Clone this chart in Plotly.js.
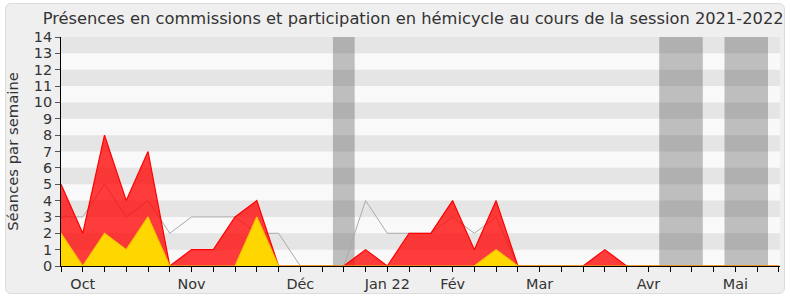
<!DOCTYPE html>
<html>
<head>
<meta charset="utf-8">
<script src="https://cdn.plot.ly/plotly-3.0.1.min.js"></script>
<style>
  html, body { margin:0; padding:0; background:#ffffff; }
  #frame { position:absolute; left:5px; top:3px; width:778px; height:289px; border:1px solid #dcdcdc; border-radius:6px; background:#efefef; }
  #chart { position:absolute; left:0; top:0; width:790px; height:300px; }
</style>
</head>
<body>
<div id="frame"></div>
<div id="chart"></div>
<script>
// Week index positions (one point per week of the session)
const semaines = [0,1,2,3,4,5,6,7,8,9,10,11,12,13,14,15,16,17,18,19,20,21,22,23,24,25,26,27,28,29,30,31,32,33];
// Month tick labels and the week where they sit
const moisLabels = ["Oct","Nov","Déc","Jan 22","Fév","Mar","Avr","Mai"];
const moisPos = [1,6,11,15,18,22,27,31];
// Séances per week
const presencesCommission = [5,2,8,4,7,0,1,1,3,4,0,0,0,0,1,0,2,2,4,1,4,0,0,0,0,1,0,0,0,0,0,0,0,0];
const participationHemicycle = [2,0,2,1,3,0,0,0,0,3,0,0,0,0,0,0,0,0,0,0,1,0,0,0,0,0,0,0,0,0,0,0,0,0];
const medianeDeputes = [3,3,5,3,4,2,3,3,3,2,2,0,0,0,4,2,2,2,3,2,3,0,0,0,0,0,0,0,0,0,0,0,0,0];
// Holiday weeks (start, end in week index units)
const vacances = [[12.5,13.5],[27.5,29.5],[30.5,32.5]];

const ticktext = semaines.map(w => { const k = moisPos.indexOf(w); return k >= 0 ? moisLabels[k] : ""; });

const shapes = [];
for (let y = 1; y < 14; y += 2) {
  shapes.push({type:'rect', xref:'paper', yref:'y', x0:0, x1:1, y0:y, y1:y+1, fillcolor:'#e5e5e5', line:{width:0}, layer:'below'});
}
vacances.forEach(v => {
  shapes.push({type:'rect', xref:'x', yref:'paper', x0:v[0], x1:v[1], y0:0, y1:1, fillcolor:'rgba(52,52,52,0.3)', line:{width:0}, layer:'below'});
});

const fam = 'DejaVu Sans, Verdana, sans-serif';
const font = {family:fam, size:14, color:'#333'};

const data = [
  {x:semaines, y:medianeDeputes, type:'scatter', mode:'lines', line:{color:'#aaaaaa', width:1}, hoverinfo:'skip', showlegend:false},
  {x:semaines, y:presencesCommission, type:'scatter', mode:'lines', fill:'tozeroy', fillcolor:'rgba(255,0,0,0.76)', line:{color:'#ff0000', width:1.2}, showlegend:false},
  {x:semaines, y:participationHemicycle, type:'scatter', mode:'lines', fill:'tozeroy', fillcolor:'#ffd700', line:{color:'#f5c800', width:1.2}, showlegend:false}
];

const layout = {
  width:790, height:300,
  margin:{l:61, r:10, t:37, b:34, pad:0},
  paper_bgcolor:'rgba(0,0,0,0)',
  plot_bgcolor:'#f9f9f9',
  font:font,
  title:{text:'Présences en commissions et participation en hémicycle au cours de la session 2021-2022', font:{family:fam, size:16.3, color:'#333'}, x:0.523, xref:'container', xanchor:'center', y:0.94, yref:'container', yanchor:'middle'},
  xaxis:{range:[0,33.05], tickmode:'array', tickvals:semaines, ticktext:ticktext, ticks:'outside', ticklen:5, tickcolor:'#000', showline:true, linecolor:'#000', linewidth:1, showgrid:false, zeroline:false, tickfont:{family:fam, size:14.4, color:'#333'}, fixedrange:true},
  yaxis:{range:[0,14], dtick:1, tick0:0, ticks:'outside', ticklen:5, tickcolor:'#555', showline:true, linecolor:'#000', linewidth:1, showgrid:false, zeroline:false, tickfont:{family:fam, size:14.4, color:'#333'}, title:{text:'Séances par semaine', font:{family:fam, size:14.8, color:'#333'}, standoff:11}, fixedrange:true},
  shapes:shapes
};

Plotly.newPlot('chart', data, layout, {displayModeBar:false, staticPlot:true});
</script>
</body>
</html>
